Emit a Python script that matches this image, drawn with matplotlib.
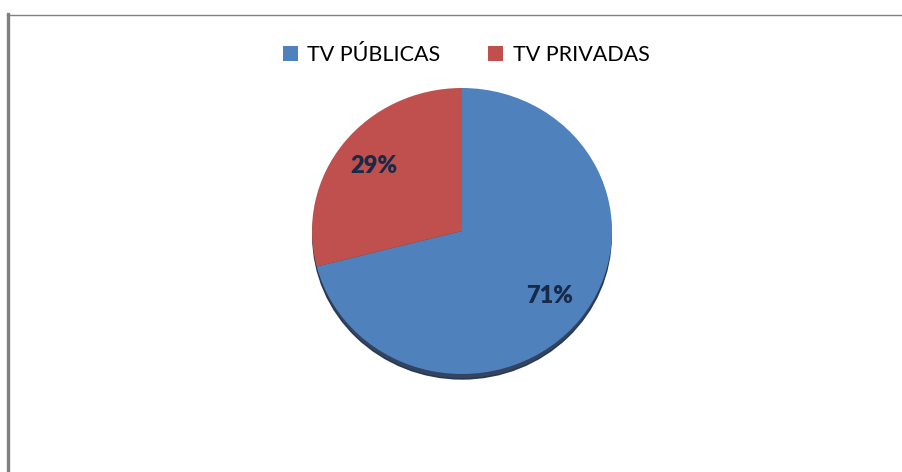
import matplotlib.pyplot as plt
from matplotlib.patches import Ellipse, Patch
from matplotlib.lines import Line2D

# data
labels = ['TV PÚBLICAS', 'TV PRIVADAS']
values = [71, 29]
colors = ['#4f81bd', '#c0504d']

plt.rcParams['font.family'] = ['Lato', 'DejaVu Sans']

W, H = 903, 472
fig = plt.figure(figsize=(W / 100, H / 100), dpi=100)

# pie area: centre ~ (462, 231) px, rx 150, ry 143
ax = fig.add_axes([312 / W, 98 / H, 300 / W, 286 / H])
ax.axis('off')

# shadow under the pie
ax.add_patch(Ellipse((0.0, -0.035), 1.99, 2.0, color='#1c2f4d', alpha=0.9, zorder=0,
                     clip_on=False))

wedges, texts, autotexts = ax.pie(values, colors=colors, startangle=90, counterclock=False,
                                  radius=1, autopct='%1.0f%%', pctdistance=0.74,
                                  textprops={'fontsize': 17, 'fontweight': 'heavy', 'color': '#172a48'},
                                  wedgeprops={'linewidth': 0, 'zorder': 1})
ax.set_xlim(-1, 1)
ax.set_ylim(-1, 1)
ax.set_aspect('auto')

# legend
handles = [Patch(facecolor=c, edgecolor='none') for c in colors]
fig.legend(handles, labels, loc='center', bbox_to_anchor=(466 / W, 1 - 55 / H), ncol=2,
           frameon=False, fontsize=15.5, handlelength=0.7, handleheight=0.7,
           handletextpad=0.45, columnspacing=2.2)

# chart border (left and top)
fig.add_artist(Line2D([8 / W, 8 / W], [0, 1 - 14 / H], color='#808080', linewidth=2.4,
                      transform=fig.transFigure))
fig.add_artist(Line2D([7 / W, 1], [1 - 14.5 / H, 1 - 14.5 / H], color='#808080', linewidth=1,
                      transform=fig.transFigure))

fig.savefig('out.png', dpi=100)
